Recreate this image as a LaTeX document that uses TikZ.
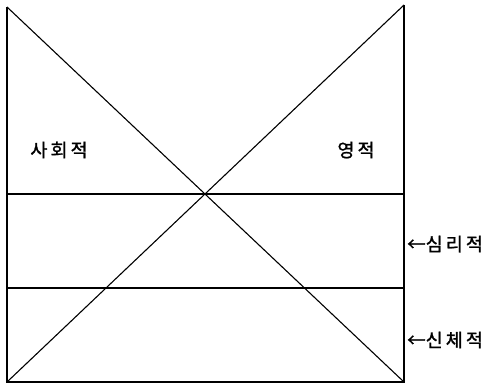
\documentclass[tikz,border=0pt]{standalone}
\usepackage{fontspec}
\newfontfamily\kofont[FakeBold=1.2]{Noto Sans CJK KR}
\usetikzlibrary{positioning}
\tikzset{
  frameline/.style={line width=1.6pt},
  crossline/.style={line width=1.1pt},
  layerlabel/.style={font=\kofont\fontsize{18.5}{22}\selectfont, inner sep=0pt},
}
\begin{document}
\begin{tikzpicture}[x=1pt, y=-1pt]
  \useasboundingbox (0,0) rectangle (492,384);
  % corners
  \coordinate (tl) at (7,7);
  \coordinate (tr) at (404,5);
  \coordinate (bl) at (7,382);
  \coordinate (br) at (404,382);
  % layer borders
  \coordinate (l1) at (7,194);
  \coordinate (r1) at (404,194);
  \coordinate (l2) at (7,288);
  \coordinate (r2) at (404,288);

  \draw[frameline] (tl)--(bl)--(br)--(tr);
  \draw[frameline] (l1)--(r1);
  \draw[frameline] (l2)--(r2);
  \draw[crossline] (tl)--(br);
  \draw[crossline] (bl)--(tr);

  \node[layerlabel] (social) at (59,150) {사\,회\,적};
  \node[layerlabel] (spirit) at (356,150) {영\,적};
  \node[layerlabel, anchor=west] (mind) at (407,244) {←심\,리\,적};
  \node[layerlabel, anchor=west] (body) at (407,340) {←신\,체\,적};
\end{tikzpicture}
\end{document}
